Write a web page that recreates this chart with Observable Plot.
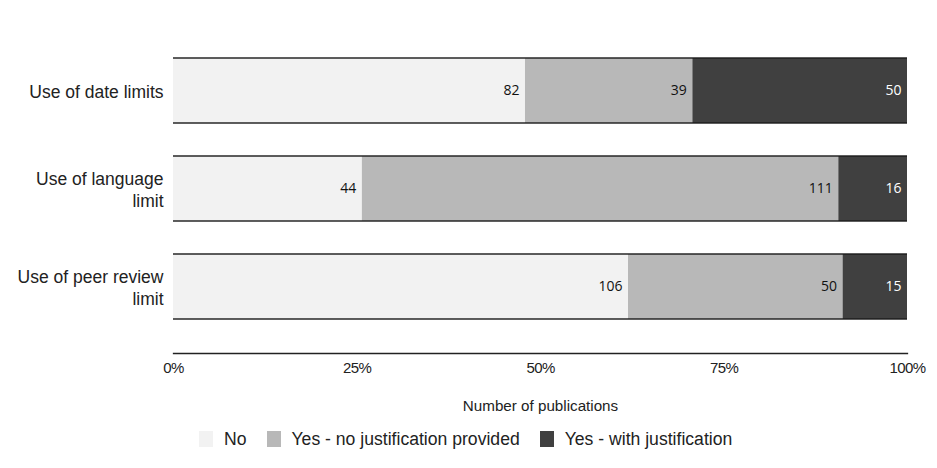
<!DOCTYPE html>
<html>
<head>
<meta charset="utf-8">
<script src="https://cdn.jsdelivr.net/npm/d3@7"></script>
<script src="https://cdn.jsdelivr.net/npm/@observablehq/plot@0.6"></script>
<style>
  body { margin: 0; background: #fff; }
  #legend { display: flex; align-items: center; margin-left: 199px; margin-top: 7px; height: 24px;
    font-family: "Liberation Sans", Arial, sans-serif; font-size: 17.6px; color: #222; }
  #legend .sw { width: 14px; height: 16px; display: inline-block; margin-right: 11px; }
  #legend .item { display: flex; align-items: center; margin-right: 20px; }
  g[aria-label="x-axis tick label"] text { letter-spacing: -0.6px; }
</style>
</head>
<body>
<div id="chart"></div>
<div id="legend"></div>
<script>
const categories = ["Use of date limits", "Use of language limit", "Use of peer review limit"];
const categoryLabels = ["Use of date limits", "Use of language\nlimit", "Use of peer review\nlimit"];
const responses = ["No", "Yes - no justification provided", "Yes - with justification"];
const colors = ["#f2f2f2", "#b8b8b8", "#404040"];
const labelColors = ["#111", "#111", "#fff"];
const valuesNo = [82, 44, 106];
const valuesNoJust = [39, 111, 50];
const valuesWithJust = [50, 16, 15];
const ticks = [0, 0.25, 0.5, 0.75, 1];

const series = [valuesNo, valuesNoJust, valuesWithJust];
const data = [];
categories.forEach((c, i) => {
  responses.forEach((r, j) => data.push({cat: c, resp: r, value: series[j][i]}));
});

const labelMap = new Map(categories.map((c, i) => [c, categoryLabels[i]]));
const stackOpts = {offset: "normalize", x: "value", y: "cat", z: "resp", order: responses};

const chart = Plot.plot({
  width: 937,
  height: 420,
  marginLeft: 173,
  marginRight: 30,
  marginTop: 24,
  marginBottom: 67,
  style: {background: "#fff"},
  x: {domain: [0, 1]},
  y: {domain: categories, padding: 0.335},
  color: {domain: responses, range: colors},
  marks: [
    Plot.barX(data, Plot.stackX({...stackOpts, fill: "resp"})),
    Plot.ruleX(data.filter(d => d.resp !== responses[0]),
      Plot.stackX1({...stackOpts, stroke: "#1a1a1a", strokeWidth: 1.3})),
    Plot.barX(categories, {x: () => 1, y: d => d, fill: "none", stroke: "#1a1a1a", strokeWidth: 1.4,
      insetLeft: -4, insetRight: -4, clip: true}),
    Plot.textX(data, Plot.stackX2({...stackOpts, text: d => String(d.value),
      fill: d => labelColors[responses.indexOf(d.resp)],
      textAnchor: "end", dx: -6, fontSize: 14, fontFamily: "Open Sans, sans-serif"})),
    Plot.frame({anchor: "bottom", stroke: "#222", strokeWidth: 1.3}),
    Plot.axisX({ticks: ticks, tickFormat: d3.format(".0%"), tickSize: 0, tickPadding: 9,
      fontSize: 15, fontFamily: "Liberation Sans, Arial, sans-serif", color: "#222",
      label: null}),
    Plot.axisX({ticks: [], tickSize: 0, fontSize: 15.2, fontFamily: "Liberation Sans, Arial, sans-serif",
      color: "#222", label: "Number of publications", labelAnchor: "center", labelOffset: 57, labelArrow: "none"}),
    Plot.axisY({tickSize: 0, tickPadding: 10, tickFormat: d => labelMap.get(d), fontSize: 17.5,
      lineHeight: 1.26, fontFamily: "Liberation Sans, Arial, sans-serif", color: "#222", label: null})
  ]
});
document.getElementById("chart").appendChild(chart);

const legend = document.getElementById("legend");
responses.forEach((r, i) => {
  const item = document.createElement("div");
  item.className = "item";
  const sw = document.createElement("span");
  sw.className = "sw";
  sw.style.background = colors[i];
  const t = document.createElement("span");
  t.textContent = r;
  item.appendChild(sw);
  item.appendChild(t);
  legend.appendChild(item);
});
</script>
</body>
</html>
